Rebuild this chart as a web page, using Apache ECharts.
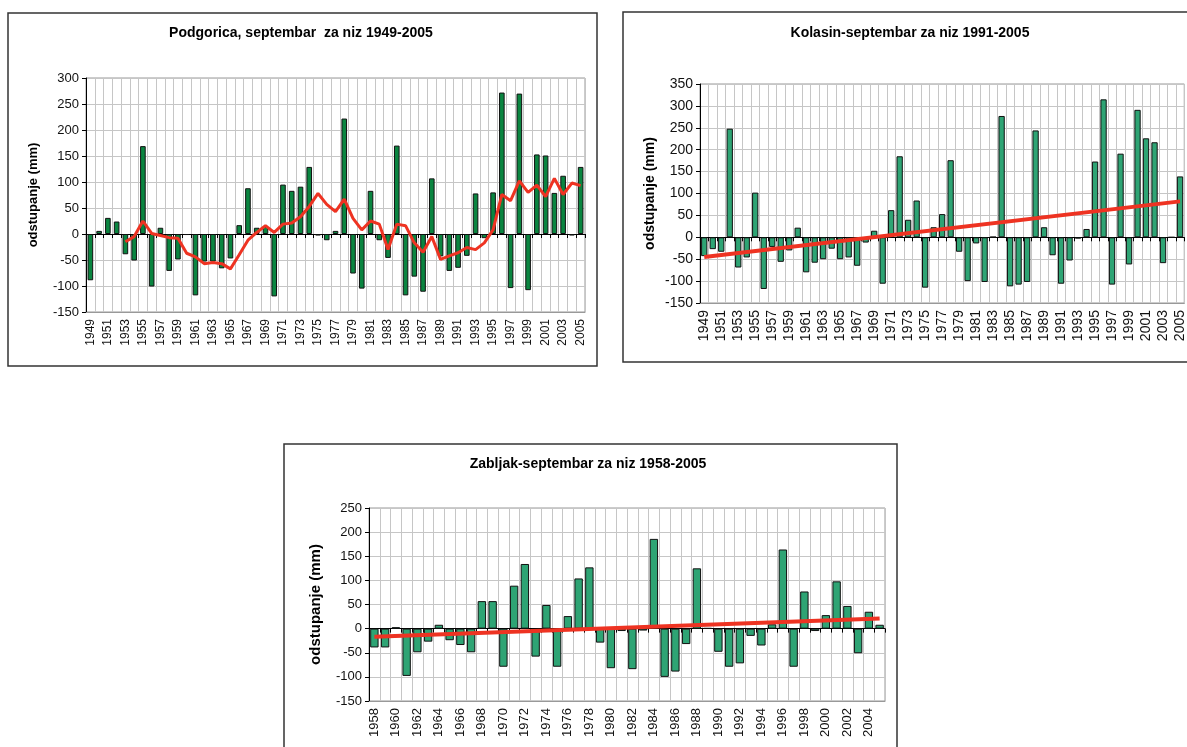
<!DOCTYPE html>
<html>
<head>
<meta charset="utf-8">
<script src="https://cdn.jsdelivr.net/npm/echarts@6/dist/echarts.min.js"></script>
<style>
  html, body { margin: 0; padding: 0; background: #fff; }
  #chart { width: 1187px; height: 747px; }
</style>
</head>
<body>
<div id="chart"></div>
<script>
// --- podaci ---
var yearsPg = ['1949','1950','1951','1952','1953','1954','1955','1956','1957','1958',
  '1959','1960','1961','1962','1963','1964','1965','1966','1967','1968',
  '1969','1970','1971','1972','1973','1974','1975','1976','1977','1978',
  '1979','1980','1981','1982','1983','1984','1985','1986','1987','1988',
  '1989','1990','1991','1992','1993','1994','1995','1996','1997','1998',
  '1999','2000','2001','2002','2003','2004','2005']
var podgorica = [-89, 6, 31, 24, -39, -51, 169, -101, 12, -71,
  -49, -2, -118, -53, -53, -66, -47, 17, 88, 12,
  14, -120, 95, 83, 91, 129, -3, -12, 6, 222,
  -76, -105, 83, -12, -46, 170, -118, -82, -111, 107,
  -43, -71, -65, -42, 78, -8, 80, 272, -104, 270,
  -108, 153, 151, 79, 112, -3, 129]
// klizni prosjek (crvena linija)
var podgoricaAvg = [null, null, null, null, -15, -5, 25, 1, -3, -7,
  -8, -37, -44, -57, -55, -57, -67, -40, -12, 3,
  16, 3, 19, 21, 33, 53, 78, 57, 43, 67,
  30, 8, 25, 19, -30, 19, 16, -17, -35, -5,
  -49, -42, -36, -26, -30, -17, 8, 76, 64, 102,
  80, 94, 72, 107, 76, 98, 93]

var yearsKo = yearsPg
var kolasin = [-43, -27, -33, 248, -69, -46, 102, -118, -22, -56,
  -30, 22, -80, -58, -50, -26, -50, -46, -65, -12,
  15, -106, 62, 185, 40, 84, -115, 23, 53, 176,
  -33, -100, -14, -102, 1, 277, -112, -108, -102, 244,
  23, -41, -106, -53, -3, 19, 173, 315, -108, 191,
  -62, 291, 226, 217, -59, 0, 139]
var kolasinTrend = [-45, 82]   // pocetak i kraj trenda

var yearsZa = ['1958','1959','1960','1961','1962','1963','1964','1965','1966','1967',
  '1968','1969','1970','1971','1972','1973','1974','1975','1976','1977',
  '1978','1979','1980','1981','1982','1983','1984','1985','1986','1987',
  '1988','1989','1990','1991','1992','1993','1994','1995','1996','1997',
  '1998','1999','2000','2001','2002','2003','2004','2005']
var zabljak = [-39, -39, 3, -98, -49, -27, 8, -24, -34, -49,
  57, 57, -79, 89, 134, -58, 49, -79, 26, 104,
  127, -29, -82, -5, -84, -4, 186, -100, -89, -32,
  125, 1, -48, -79, -72, -15, -35, 9, 164, -79,
  77, -5, 28, 98, 47, -51, 35, 8]
var zabljakTrend = [-17, 21]

var titles = ['Podgorica, septembar  za niz 1949-2005', 'Kolasin-septembar za niz 1991-2005', 'Zabljak-septembar za niz 1958-2005']

// trend: samo krajnje tacke, ostalo null
function trendData(n, ends) {
  var arr = []
  for (var i = 0; i < n; i++) arr.push(null)
  arr[0] = ends[0]
  arr[n - 1] = ends[1]
  return arr
}

var FONT = '"Liberation Sans", Arial, sans-serif'
var gridColor = '#c6c6c6'

function xAxes(gridIndex, cats, fontSize) {
  return [{
    type: 'category', gridIndex: gridIndex, data: cats, position: 'bottom',
    axisLine: { show: true, onZero: false, lineStyle: { color: '#999' } },
    axisTick: { show: false },
    axisLabel: { rotate: 90, interval: 1, fontSize: fontSize, color: '#111', fontFamily: FONT, margin: 7 },
    splitLine: { show: true, interval: 0, lineStyle: { color: gridColor, width: 1 } }
  }, {
    type: 'category', gridIndex: gridIndex, data: cats, position: 'bottom',
    axisLine: { show: true, onZero: true, lineStyle: { color: '#000', width: 1 } },
    axisTick: { show: true, interval: 0, length: 4, lineStyle: { color: '#000' } },
    axisLabel: { show: false },
    splitLine: { show: false }
  }]
}

function yAxis(gridIndex, min, max, fontSize, nameGap, nameSize) {
  return {
    type: 'value', gridIndex: gridIndex, min: min, max: max, interval: 50,
    name: 'odstupanje (mm)', nameLocation: 'middle', nameGap: nameGap, nameRotate: 90,
    nameTextStyle: { fontFamily: FONT, fontWeight: 'bold', fontSize: nameSize, color: '#000' },
    axisLine: { show: true, lineStyle: { color: '#000', width: 1 } },
    axisTick: { show: true, length: 4, lineStyle: { color: '#000' } },
    axisLabel: { fontSize: fontSize, color: '#111', fontFamily: FONT, margin: 7 },
    splitLine: { show: true, lineStyle: { color: gridColor, width: 1 } }
  }
}

function frame(x, y, w, h) {
  return { type: 'rect', shape: { x: x, y: y, width: w, height: h }, style: { fill: 'none', stroke: '#333', lineWidth: 1.5 }, z: -1 }
}
function titleText(x, y, text) {
  return { type: 'text', x: x, y: y, style: { text: text, font: 'bold 14px ' + FONT, fill: '#000', align: 'center', textAlign: 'center', verticalAlign: 'middle', textVerticalAlign: 'middle' } }
}

var myChart = echarts.init(document.getElementById('chart'))
myChart.setOption({
  animation: false,
  backgroundColor: '#fff',
  graphic: [
    frame(8, 13, 589, 353),
    frame(623, 12, 600, 350),
    frame(284, 444, 613, 330),
    titleText(301, 33, titles[0]),
    titleText(910, 33, titles[1]),
    titleText(588, 464, titles[2])
  ],
  grid: [
    { left: 86, top: 78, width: 499, height: 234, show: true, borderColor: '#999', borderWidth: 1 },
    { left: 700, top: 84, width: 487, height: 219, show: true, borderColor: '#999', borderWidth: 1 },
    { left: 369, top: 508, width: 516, height: 193, show: true, borderColor: '#999', borderWidth: 1 }
  ],
  xAxis: [].concat(xAxes(0, yearsPg, 12), xAxes(1, yearsKo, 14), xAxes(2, yearsZa, 13)),
  yAxis: [
    yAxis(0, -150, 300, 13, 46, 13),
    yAxis(1, -150, 350, 14, 43, 14),
    yAxis(2, -150, 250, 13, 46, 15)
  ],
  series: [
    {
      type: 'bar', xAxisIndex: 0, yAxisIndex: 0, data: podgorica, barWidth: '64%',
      itemStyle: { color: '#0a8540', borderColor: '#111', borderWidth: 1 }
    },
    {
      type: 'line', xAxisIndex: 0, yAxisIndex: 0, data: podgoricaAvg, showSymbol: false,
      lineStyle: { color: '#ee3322', width: 3 }, z: 5
    },
    {
      type: 'bar', xAxisIndex: 2, yAxisIndex: 1, data: kolasin, barWidth: '74%',
      itemStyle: { color: '#2ea474', borderColor: '#111', borderWidth: 1 }
    },
    {
      type: 'line', xAxisIndex: 2, yAxisIndex: 1, data: trendData(kolasin.length, kolasinTrend),
      connectNulls: true, showSymbol: false, lineStyle: { color: '#ee3322', width: 4 }, z: 5
    },
    {
      type: 'bar', xAxisIndex: 4, yAxisIndex: 2, data: zabljak, barWidth: '78%',
      itemStyle: { color: '#2ea474', borderColor: '#111', borderWidth: 1 }
    },
    {
      type: 'line', xAxisIndex: 4, yAxisIndex: 2, data: trendData(zabljak.length, zabljakTrend),
      connectNulls: true, showSymbol: false, lineStyle: { color: '#ee3322', width: 4 }, z: 5
    }
  ]
})
window.addEventListener('resize', myChart.resize)
</script>
</body>
</html>
